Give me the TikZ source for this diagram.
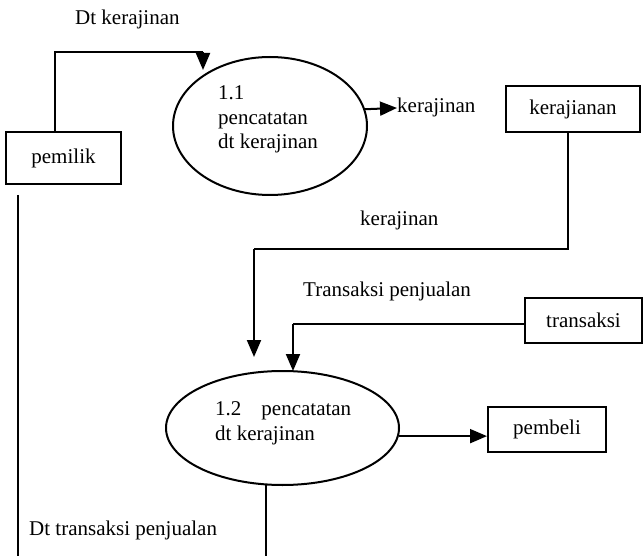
\documentclass[tikz,border=0pt]{standalone}
\usepackage{fontspec}
\setmainfont{Liberation Serif}
\usetikzlibrary{arrows.meta,shapes.geometric}
\begin{document}
\begin{tikzpicture}[x=1pt,y=-1pt,
  every node/.style={font=\fontsize{21}{24.5}\selectfont},
  ln/.style={line width=2pt},
  arr/.style={ln,-{Triangle[length=17pt,width=14pt]}},
  entity/.style={draw,line width=2pt,rectangle,inner sep=0pt},
  proc/.style={draw,line width=2pt,ellipse,inner sep=0pt},
  lbl/.style={inner sep=0pt,anchor=base west}]
\useasboundingbox (0,0) rectangle (643,556);

% entities
\node[entity,minimum width=115pt,minimum height=52pt] (pemilik) at (63.5,158) {pemilik};
\node[entity,minimum width=134pt,minimum height=46pt] (kbox) at (573,109) {kerajianan};
\node[entity,minimum width=117pt,minimum height=45pt] (trans) at (583.5,320.5) {transaksi};
\node[entity,minimum width=118pt,minimum height=45pt] (pembeli) at (547,429.5) {pembeli};

% processes
\node[proc,minimum width=194pt,minimum height=138pt] (e1) at (270,126) {};
\node[proc,minimum width=233pt,minimum height=114pt] (e2) at (282.5,428) {};

% process texts
\node[lbl] (e1a) at (218,100) {1.1};
\node[lbl] (e1b) at (218,124.5) {pencatatan};
\node[lbl] (e1c) at (218,149) {dt kerajinan};
\node[lbl] (e2a) at (215,415) {1.2\hspace{20pt}pencatatan};
\node[lbl] (e2b) at (215,440) {dt kerajinan};

% labels
\node[lbl] (ldt) at (75,25) {Dt kerajinan};
\node[lbl] (lk1) at (397,113) {kerajinan};
\node[lbl] (lk2) at (360,226) {kerajinan};
\node[lbl] (ltp) at (303,297) {Transaksi penjualan};
\node[lbl] (ldtp) at (29,535) {Dt transaksi penjualan};

% coordinates
\coordinate (c1) at (203,52);
\coordinate (t1) at (203,70);
\coordinate (c2) at (254,249);
\coordinate (t2) at (254,357);
\coordinate (c3) at (293,324);
\coordinate (t3) at (293,371);
\coordinate (bot) at (0,556);
\coordinate (lt) at (18,195);
\coordinate (lb) at (18,556);

% connectors
\draw[ln] ([xshift=-8.5pt]pemilik.north) |- (c1);
\draw[arr] (c1) -- (t1);
\draw[arr] (e1.10.9) -- (lk1.west);
\draw[ln] ([xshift=-5pt]kbox.south) |- (c2);
\draw[arr] (c2) -- (t2);
\draw[ln] (trans.west |- c3) -- (c3);
\draw[arr] (c3) -- (t3);
\draw[arr] (e2.-4) -- (e2.-4 -| pembeli.west);
\draw[ln] (e2.254.7) -- (e2.254.7 |- bot);
\draw[ln] (lt) -- (lb);
\end{tikzpicture}
\end{document}
